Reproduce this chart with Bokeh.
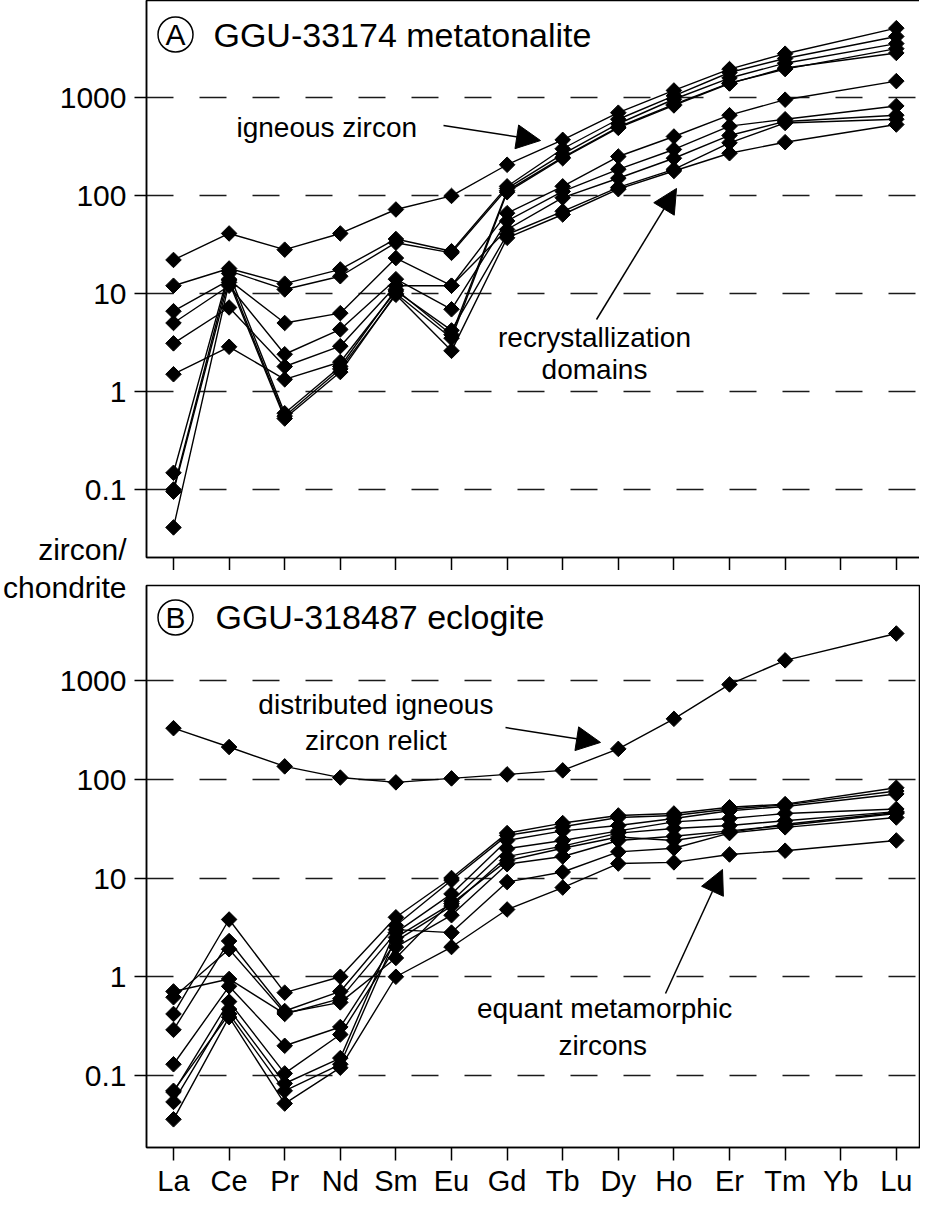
import math
from bokeh.plotting import figure
from bokeh.models import (Range1d, FixedTicker, CustomJSTickFormatter, Label,
                          Arrow, NormalHead, ColumnDataSource)
from bokeh.layouts import column
from bokeh.embed import file_html
from bokeh.resources import INLINE

# ---------------- data ----------------
ELEMENTS = ["La", "Ce", "Pr", "Nd", "Sm", "Eu", "Gd", "Tb", "Dy", "Ho", "Er", "Tm", "Yb", "Lu"]
MEASURED = ["La", "Ce", "Pr", "Nd", "Sm", "Eu", "Gd", "Tb", "Dy", "Ho", "Er", "Tm", "Lu"]
Y_TICKS = [0.1, 1, 10, 100, 1000]
Y_LABEL_TOP = "zircon/"      # lower-left of panel A
Y_LABEL_BOTTOM = "chondrite"  # upper-left of panel B

# Panel A: GGU-33174 metatonalite (zircon/chondrite)
# igneous zircon
A_ign_1 = [22, 41, 28, 41, 72, 99, 206, 370, 700, 1180, 1950, 2800, 5100]
A_ign_2 = [12, 18, 12.6, 17.6, 36, 27, 124, 300, 600, 1040, 1800, 2500, 4200]
A_ign_3 = [0.148, 17, 11, 15, 33, 26, 118, 265, 540, 960, 1580, 2240, 3550]
A_ign_4 = [0.1, 16, 0.6, 1.8, 11, 3.8, 112, 245, 500, 850, 1400, 1950, 3150]
A_ign_5 = [0.041, 13, 0.53, 1.58, 10, 3.5, 108, 240, 490, 830, 1390, 2000, 2850]
# recrystallization domains
A_rec_1 = [6.6, 13.7, 5, 6.3, 23, 12, 66, 124, 250, 400, 660, 950, 1470]
A_rec_2 = [5, 12, 2.4, 4.3, 14, 6.9, 55, 110, 185, 295, 510, 600, 820]
A_rec_3 = [3.1, 7.2, 1.8, 2.9, 12, 12, 45, 95, 150, 240, 410, 570, 660]
A_rec_4 = [1.5, 2.86, 1.33, 2.0, 10.6, 4.2, 40, 69, 121, 185, 345, 550, 600]
A_rec_5 = [0.095, 14, 0.56, 1.7, 9.7, 2.6, 37, 64, 116, 178, 270, 350, 530]

# Panel B: GGU-318487 eclogite
B_relict = [329, 212, 135, 104, 93, 102, 112, 123, 203, 409, 912, 1600, 2990]
B_met_1 = [0.42, 3.8, 0.69, 1.0, 4.0, 10, 28.5, 36, 43, 45, 52, 56, 82]
B_met_2 = [0.29, 2.3, 0.45, 0.71, 3.3, 9.5, 27, 33, 41, 43, 50, 55, 76]
B_met_3 = [0.71, 0.95, 0.42, 0.6, 2.8, 6.9, 24, 30, 34, 40, 48, 53, 71]
B_met_4 = [0.62, 1.9, 0.43, 0.55, 1.55, 5.8, 19.8, 24, 30, 37, 40, 45, 50]
B_met_5 = [0.13, 0.8, 0.2, 0.31, 2.3, 5.2, 16.5, 21, 28.5, 31.7, 34, 38, 47]
B_met_6 = [0.068, 0.56, 0.105, 0.26, 2.0, 4.2, 13.8, 16.5, 24, 26.5, 30, 34, 45]
B_met_7 = [0.054, 0.47, 0.083, 0.15, 3.0, 2.8, 9.1, 11.5, 18.4, 20, 28.5, 32.6, 41]
B_met_8 = [0.036, 0.39, 0.052, 0.12, 1.0, 2.0, 4.8, 8, 14, 14.4, 17.3, 18.9, 24]
B_met_9 = [0.07, 0.42, 0.07, 0.13, 2.5, 5.5, 15, 20, 26, 24, 29, 35, 46]

A_SERIES = [A_ign_1, A_ign_2, A_ign_3, A_ign_4, A_ign_5,
            A_rec_1, A_rec_2, A_rec_3, A_rec_4, A_rec_5]
B_SERIES = [B_relict, B_met_1, B_met_2, B_met_3, B_met_4, B_met_5,
            B_met_6, B_met_7, B_met_8, B_met_9]

# ---------------- styling ----------------
FONT = "Liberation Sans"
X_IDX = [ELEMENTS.index(e) for e in MEASURED]


def make_panel(frame_h, y_lo, y_hi, border_top, border_bottom, show_xlabels,
               word_tick, word):
    p = figure(frame_width=774, frame_height=frame_h,
               x_range=Range1d(-0.4856, 13.435), y_range=Range1d(y_lo, y_hi),
               y_axis_type="log", output_backend="svg", toolbar_location=None,
               min_border_left=145, min_border_right=0,
               min_border_top=border_top, min_border_bottom=border_bottom)
    p.outline_line_color = "black"
    p.outline_line_width = 1.5
    p.background_fill_color = "white"
    p.border_fill_color = "white"
    p.xgrid.visible = False
    p.ygrid.ticker = FixedTicker(ticks=Y_TICKS)
    p.ygrid.grid_line_color = "#1a1a1a"
    p.ygrid.grid_line_width = 1.6
    p.ygrid.grid_line_dash = "27 26"

    # y axis: labelled ticks (numbers + the word of the y label),
    # visible tick marks only at the numeric values (drawn as minor ticks)
    ya = p.yaxis[0]
    ya.ticker = FixedTicker(ticks=sorted(Y_TICKS + [word_tick]), minor_ticks=Y_TICKS)
    ya.formatter = CustomJSTickFormatter(
        args=dict(wt=word_tick, word=word),
        code="return Math.abs(tick - wt) < 1e-9 * Math.max(1, wt) ? word : String(tick);")
    ya.major_tick_out = 12
    ya.major_tick_in = 0
    ya.major_tick_line_color = None
    ya.minor_tick_out = 12
    ya.minor_tick_in = 0
    ya.minor_tick_line_color = "black"
    ya.minor_tick_line_width = 1.5
    ya.axis_line_width = 1.5
    ya.major_label_standoff = 8
    ya.major_label_text_font = FONT
    ya.major_label_text_font_size = "30px"
    ya.major_label_text_color = "black"

    xa = p.xaxis[0]
    xa.axis_line_width = 1.5
    if show_xlabels:
        xa.ticker = FixedTicker(ticks=list(range(len(ELEMENTS))))
        xa.major_label_overrides = {i: e for i, e in enumerate(ELEMENTS)}
        xa.major_tick_out = 13
        xa.major_tick_in = 0
        xa.major_tick_line_width = 1.5
        xa.minor_tick_line_color = None
        xa.major_label_text_font = FONT
        xa.major_label_text_font_size = "29px"
        xa.major_label_text_color = "black"
        xa.major_label_standoff = 4
    else:
        # tick marks only, no labels
        xa.ticker = FixedTicker(ticks=[], minor_ticks=list(range(len(ELEMENTS))))
        xa.minor_tick_out = 13
        xa.minor_tick_in = 0
        xa.minor_tick_line_color = "black"
        xa.minor_tick_line_width = 1.5
        xa.major_tick_line_color = None
    return p


def draw_series(p, series_list):
    for vals in series_list:
        src = ColumnDataSource(dict(x=X_IDX, y=vals))
        p.line("x", "y", source=src, line_color="black", line_width=1.4)
        p.scatter("x", "y", source=src, marker="square", angle=math.pi / 4,
                  size=11, fill_color="black", line_color="black")


def text(p, x, y, s, size="28px", align="left"):
    p.add_layout(Label(x=x, y=y, text=s, text_font=FONT, text_font_size=size,
                       text_baseline="middle", text_align=align, text_color="black"))


def arrow(p, x0, y0, x1, y1):
    p.add_layout(Arrow(x_start=x0, y_start=y0, x_end=x1, y_end=y1,
                       line_color="black", line_width=1.5,
                       end=NormalHead(size=24, fill_color="black", line_color="black")))


def circled_letter(p, x, y, letter):
    p.scatter(x=[x], y=[y], marker="circle", size=35, fill_color=None,
              line_color="black", line_width=1.5)
    text(p, x, y, letter, size="30px", align="center")


# ---------------- panel A ----------------
pA = make_panel(557, 10 ** -1.694, 10 ** 3.99, 0, 13, False, 0.0244, Y_LABEL_TOP)
draw_series(pA, A_SERIES)
circled_letter(pA, 0.036, 4395, "A")
text(pA, 0.719, 4395, "GGU-33174 metatonalite", size="34px")
text(pA, 1.133, 494, "igneous zircon")
arrow(pA, 4.856, 518, 6.601, 364)
text(pA, 7.572, 3.56, "recrystallization", align="center")
text(pA, 7.572, 1.67, "domains", align="center")
arrow(pA, 7.608, 5.43, 9.047, 118)

# ---------------- panel B ----------------
pB = make_panel(562, 10 ** -1.729, 10 ** 3.962, 15, 46, True, 8955, Y_LABEL_BOTTOM)
draw_series(pB, B_SERIES)
circled_letter(pB, 0.036, 4345, "B")
text(pB, 0.755, 4345, "GGU-318487 eclogite", size="34px")
text(pB, 3.64, 571, "distributed igneous", align="center")
text(pB, 3.64, 247, "zircon relict", align="center")
arrow(pB, 5.971, 334, 7.68, 236)
text(pB, 7.752, 0.476, "equant metamorphic", align="center")
text(pB, 7.72, 0.201, "zircons", align="center")
arrow(pB, 8.849, 0.676, 9.874, 12.2)

layout = column(pA, pB, spacing=0)
open("out.html", "w").write(file_html(layout, INLINE))
